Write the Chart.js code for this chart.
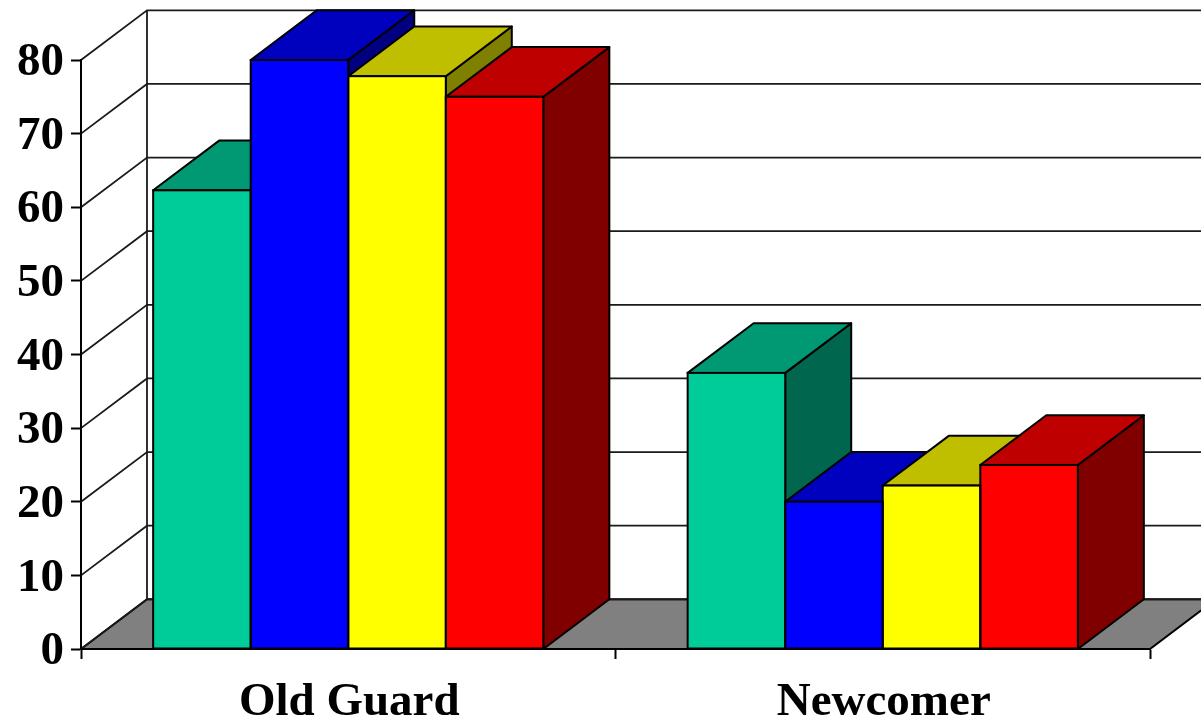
<!DOCTYPE html>
<html>
<head>
<meta charset="utf-8">
<title>Old Guard vs Newcomer</title>
<script src="https://cdn.jsdelivr.net/npm/chart.js@4"></script>
<style>
    html, body { margin: 0; padding: 0; background: #fff; overflow: hidden; }
    canvas { display: block; }
</style>
</head>
<body>
<canvas id="mainChart" width="1201" height="721"></canvas>
<script>
const categories = ['Old Guard', 'Newcomer'];
const greenValues = [62.3, 37.5];
const blueValues = [80, 20];
const yellowValues = [77.8, 22.2];
const redValues = [75, 25];

// fake perspective offset of the back plane
const depthX = 66;
const depthY = 49.7;

const frontColors = ['#00cc99', '#0000ff', '#ffff00', '#ff0000'];
const topColors = ['#009973', '#0000bf', '#bfbf00', '#bf0000'];
const sideColors = ['#00664d', '#000080', '#808000', '#800000'];

function polygon(ctx, points, fill) {
    ctx.beginPath();
    ctx.moveTo(points[0][0], points[0][1]);
    for (let i = 1; i < points.length; i++) {
        ctx.lineTo(points[i][0], points[i][1]);
    }
    ctx.closePath();
    if (fill) {
        ctx.fillStyle = fill;
        ctx.fill();
    }
    ctx.stroke();
}

const wallsPlugin = {
    id: 'walls',
    beforeDraw(chart) {
        const ctx = chart.ctx;
        const x = chart.scales.x;
        const y = chart.scales.y;
        ctx.save();
        ctx.strokeStyle = '#000';
        ctx.lineWidth = 2;
        polygon(ctx, [
            [x.left, y.bottom],
            [x.left + depthX, y.bottom - depthY],
            [x.right + depthX, y.bottom - depthY],
            [x.right, y.bottom]
        ], '#808080');
        ctx.lineWidth = 1.8;
        ctx.strokeStyle = '#1a1a1a';
        y.ticks.forEach((tick) => {
            const py = y.getPixelForValue(tick.value);
            ctx.beginPath();
            ctx.moveTo(x.left, py);
            ctx.lineTo(x.left + depthX, py - depthY);
            ctx.lineTo(x.right + depthX, py - depthY);
            ctx.stroke();
        });
        ctx.beginPath();
        ctx.moveTo(x.left + depthX, y.top - depthY);
        ctx.lineTo(x.left + depthX, y.bottom - depthY);
        ctx.stroke();
        ctx.restore();
    }
};

const boxesPlugin = {
    id: 'boxes',
    // top and side faces go under the fronts, painted left to right
    beforeDatasetsDraw(chart) {
        const ctx = chart.ctx;
        const base = chart.scales.y.bottom;
        ctx.save();
        ctx.strokeStyle = '#000';
        ctx.lineWidth = 2;
        ctx.lineJoin = 'round';
        categories.forEach((name, c) => {
            chart.data.datasets.forEach((dataset, d) => {
                const bar = chart.getDatasetMeta(d).data[c];
                const left = bar.x - bar.width / 2;
                const right = bar.x + bar.width / 2;
                polygon(ctx, [
                    [right, bar.y],
                    [right + depthX, bar.y - depthY],
                    [right + depthX, base - depthY],
                    [right, base]
                ], sideColors[d]);
                polygon(ctx, [
                    [left, bar.y],
                    [left + depthX, bar.y - depthY],
                    [right + depthX, bar.y - depthY],
                    [right, bar.y]
                ], topColors[d]);
            });
        });
        ctx.restore();
    },
    // outline the fronts so neighbouring bars share one line
    afterDatasetsDraw(chart) {
        const ctx = chart.ctx;
        ctx.save();
        ctx.strokeStyle = '#000';
        ctx.lineWidth = 2;
        chart.data.datasets.forEach((dataset, d) => {
            chart.getDatasetMeta(d).data.forEach((bar) => {
                ctx.strokeRect(bar.x - bar.width / 2, bar.y, bar.width, bar.base - bar.y);
            });
        });
        ctx.restore();
    }
};

const tickFont = { family: '"Liberation Serif", serif', size: 47, weight: 'bold' };

function setupChart() {
    const ctx = document.getElementById('mainChart').getContext('2d');
    const seriesValues = [greenValues, blueValues, yellowValues, redValues];
    const seriesNames = ['Series 1', 'Series 2', 'Series 3', 'Series 4'];
    const data = {
        labels: categories,
        datasets: seriesValues.map((values, i) => ({
            label: seriesNames[i],
            data: values,
            backgroundColor: frontColors[i],
            borderWidth: 0,
            barPercentage: 1,
            categoryPercentage: 0.73
        }))
    };
    const config = {
        type: 'bar',
        data: data,
        plugins: [wallsPlugin, boxesPlugin],
        options: {
            responsive: false,
            animation: false,
            layout: { padding: { top: 60, right: 51, left: 0, bottom: 0 } },
            plugins: {
                legend: { display: false },
                title: { display: false },
                tooltip: { enabled: false }
            },
            scales: {
                x: {
                    afterFit(scale) { scale.height = 72; },
                    grid: { drawOnChartArea: false, tickLength: 10, tickColor: '#000', tickWidth: 2 },
                    border: { color: '#000', width: 2 },
                    ticks: { color: '#000', font: tickFont, padding: 16, maxRotation: 0, labelOffset: 1 }
                },
                y: {
                    min: 0,
                    max: 80,
                    afterFit(scale) { scale.width = 81; },
                    grid: { drawOnChartArea: false, tickLength: 10, tickColor: '#000', tickWidth: 2 },
                    border: { color: '#000', width: 2 },
                    ticks: { color: '#000', font: tickFont, stepSize: 10, padding: 7, labelOffset: 3 }
                }
            }
        }
    };
    return new Chart(ctx, config);
}

const mainChart = setupChart();
</script>
</body>
</html>
